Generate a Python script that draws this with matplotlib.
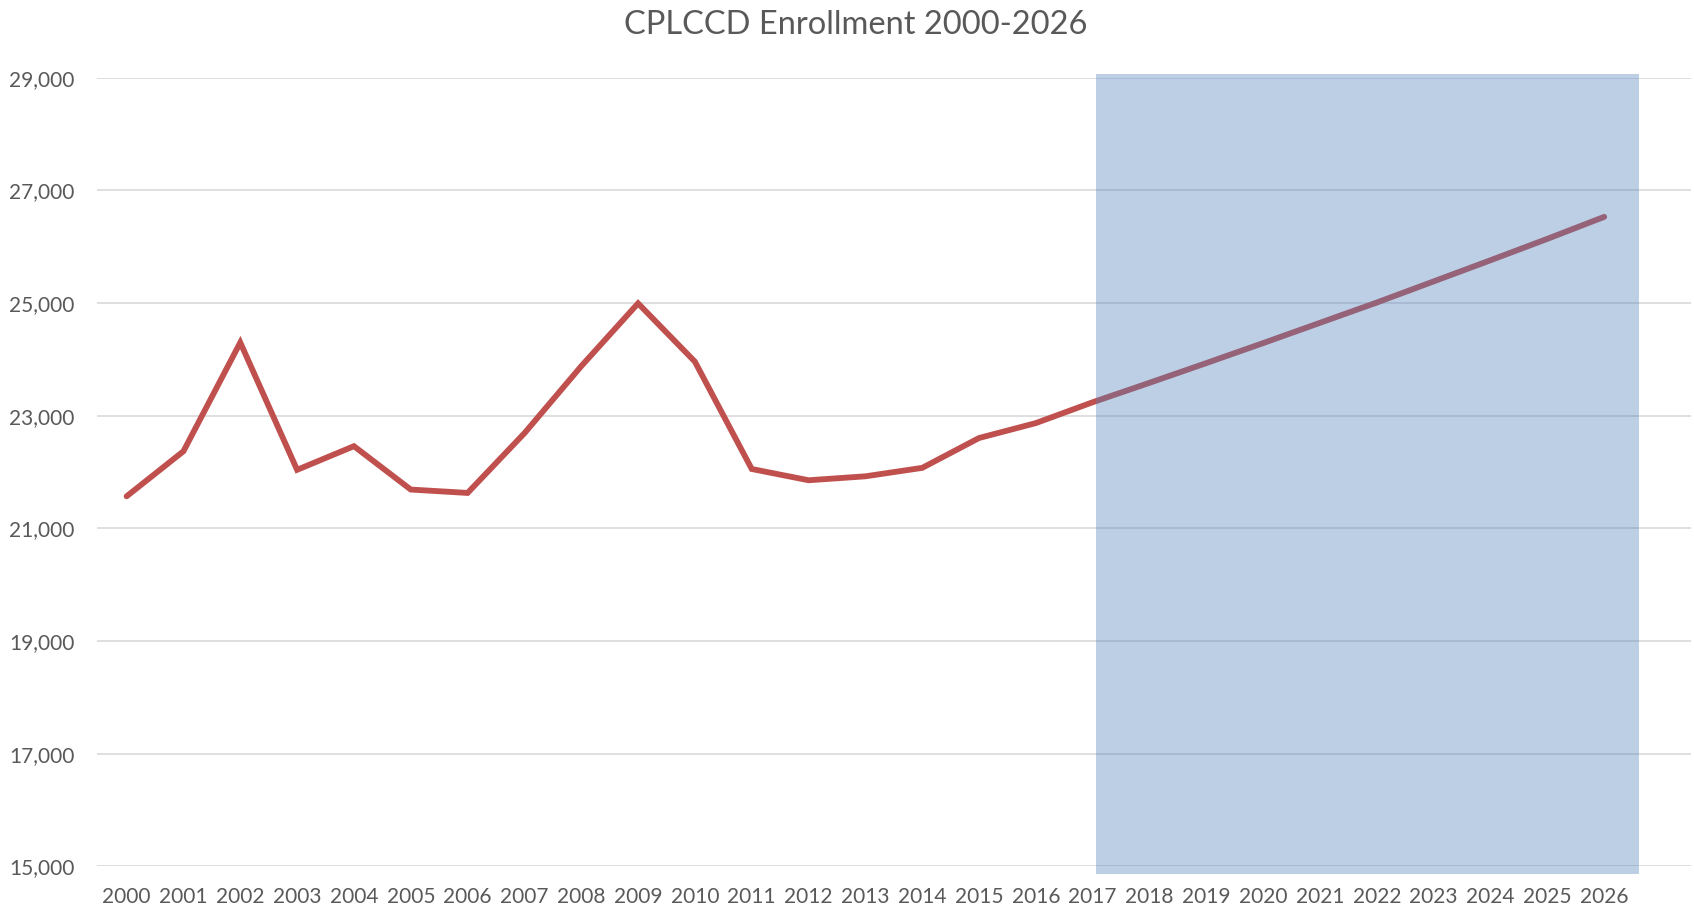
import matplotlib.pyplot as plt
import matplotlib.patches as mpatches
from matplotlib.ticker import FuncFormatter

plt.rcParams['font.family'] = ['Lato', 'DejaVu Sans']

# enrollment, actual (2000-2017) and projected (2018-2026)
years = list(range(2000, 2027))
enrollment = [21570, 22370, 24300, 22040, 22460, 21690, 21630, 22690, 23880,
              24995, 23960, 22055, 21855, 21925, 22075, 22605, 22870, 23240,
              23585, 23935, 24290, 24650, 25010, 25385, 25760, 26140, 26530]
y_ticks = [15000, 17000, 19000, 21000, 23000, 25000, 27000, 29000]
title = "CPLCCD Enrollment 2000-2026"

TEXT = "#595959"
GRID = "#d9d9d9"
LINE = "#c0504d"
SHADE = "#4f81bd"

fig = plt.figure(figsize=(16.94, 9.09), dpi=100)
ax = fig.add_axes([0.0573, 0.0468, 0.941, 0.8677])

ax.plot(years, enrollment, color=LINE, lw=4.2, solid_capstyle='round',
        solid_joinstyle='miter', zorder=3)

# projection window
shade = mpatches.Rectangle((2017.05, 14867), 2026.61 - 2017.05, 29059 - 14867,
                           facecolor=SHADE, alpha=0.38, edgecolor='none',
                           zorder=4, clip_on=False)
ax.add_patch(shade)

ax.set_xlim(1999.48, 2027.53)
ax.set_ylim(15000, 29000)
ax.set_yticks(y_ticks)
ax.yaxis.set_major_formatter(FuncFormatter(lambda v, p: f"{int(v):,}"))
ax.set_xticks(years)
ax.set_xticklabels([str(y) for y in years])

ax.grid(axis='y', color=GRID, lw=1.2, zorder=1)
ax.set_axisbelow(True)
for s in ax.spines.values():
    s.set_visible(False)
ax.tick_params(axis='both', length=0, colors=TEXT, labelsize=15)
ax.tick_params(axis='y', pad=16)
ax.tick_params(axis='x', pad=15)

fig.text(0.505, 0.972, title, ha='center', va='center', fontsize=23.5, color=TEXT)

fig.savefig("out.png", dpi=100)
